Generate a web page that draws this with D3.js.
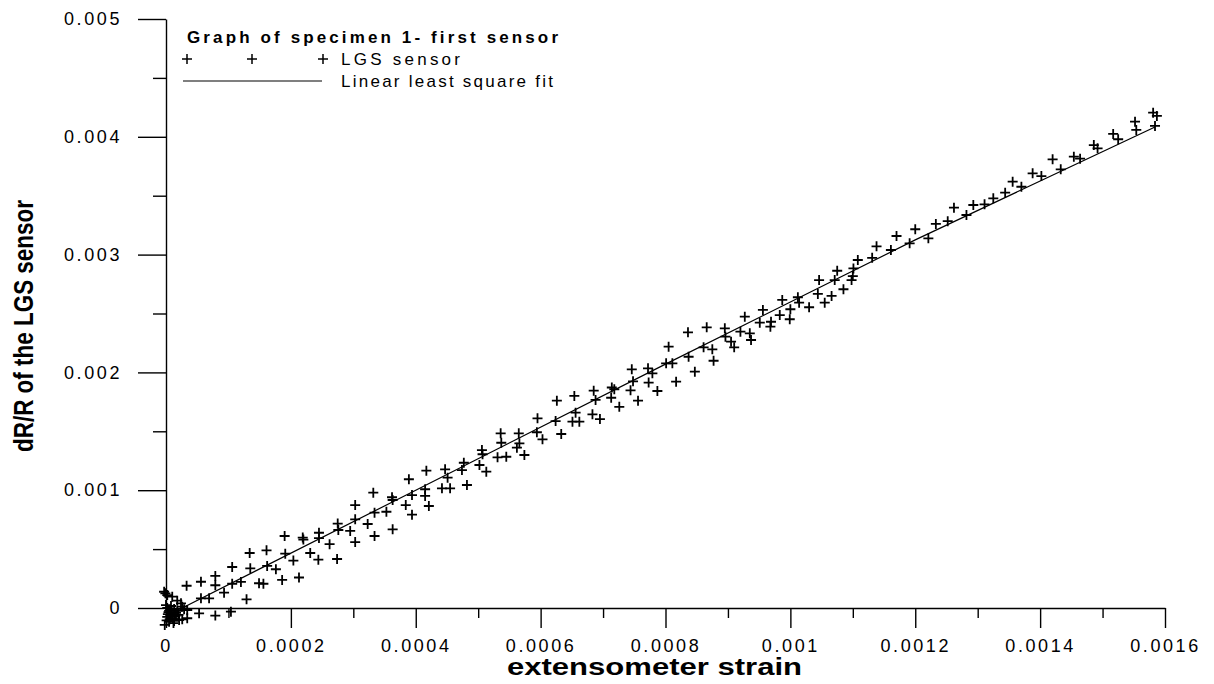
<html>
<head>
<script src="https://d3js.org/d3.v7.min.js"></script>
<style>
  body{margin:0;background:#fff;}
  text{font-family:"Liberation Sans",Arial,sans-serif;fill:#000;}
  .domain,.tick line{stroke:#000;stroke-width:1.4;}
  .tick text{font-size:18px;letter-spacing:2.6px;}
</style>
</head>
<body>
<script>
// LGS sensor readings (extensometer strain, dR/R)
const lgsStrain = [
  -0.000003,-0.000001,0.000002,0.00001,0.000018,0.000024,0.000026,0.0,0.000002,0.000005,
  0.000008,0.000002,0.000013,0.000016,0.000005,0.000013,0.000021,0.000026,0.000029,0.000034,
  -0.000002,0.000008,0.000018,0.000033,0.000056,0.000079,0.000079,0.000056,0.000069,0.000093,
  0.000106,0.000106,0.00012,0.000129,0.000134,0.000135,0.000149,0.000156,0.000161,0.000162,
  0.000176,0.000186,0.00019,0.000191,0.000204,0.000213,0.000219,0.00022,0.000231,0.000245,
  0.000245,0.000244,0.000262,0.000275,0.000276,0.000274,0.000295,0.000303,0.000303,0.000303,
  0.000323,0.000332,0.000334,0.000334,0.000353,0.000362,0.000363,0.000363,0.000384,0.000394,
  0.000394,0.000389,0.000415,0.000415,0.000417,0.000421,0.000442,0.000447,0.000451,0.000455,
  0.000474,0.000477,0.000482,0.000502,0.000506,0.000507,0.000513,0.000531,0.000536,0.000537,
  0.000545,0.000562,0.000565,0.000566,0.000574,0.000594,0.000595,0.000603,0.000624,0.000626,
  0.000633,0.000654,0.000656,0.000651,0.000662,0.000683,0.000685,0.000688,0.000695,0.000714,
  0.000718,0.000713,0.000726,0.000744,0.000746,0.000748,0.000756,0.000772,0.000773,0.000779,
  0.000787,0.000801,0.000805,0.000811,0.000817,0.000836,0.000837,0.000847,0.000861,0.000866,
  0.000875,0.000877,0.000895,0.000896,0.000905,0.00091,0.00092,0.000927,0.000935,0.000937,
  0.000951,0.000956,0.000969,0.000968,0.000983,0.000987,0.000999,0.001,0.001012,0.001014,
  0.00103,0.001044,0.001046,0.001055,0.001066,0.001071,0.001075,0.001085,0.001098,0.0011,
  0.001101,0.001108,0.001131,0.001138,0.001161,0.00117,0.001191,0.0012,0.001221,0.001233,
  0.001252,0.001262,0.001282,0.001293,0.001311,0.001325,0.001344,0.001356,0.00137,0.001388,
  0.001402,0.00142,0.001433,0.001454,0.001464,0.001486,0.001492,0.001517,0.001525,0.001552,
  0.001554,0.001581,0.001587,0.001584,0.000053,0.000079,0.000104,0.000034,
  0.000004,0.000007,0.000011,0.000003,0.000009,0.000015,0.000006,0.000012,0.00002,0.000001
];
const lgsDR = [
  0.000138,0.000125,0.00011,0.000096,0.000062,0.00004,0.000011,0.000025,0.0,-0.000025,
  -0.000051,-0.000076,-0.000009,-0.000042,-0.000116,-0.00011,-0.000102,-0.000096,-0.000011,-0.000017,
  -0.000144,0.000017,-0.000025,0.000189,0.000223,0.000272,0.000193,0.000082,0.000082,0.00013,
  0.000348,0.000206,0.000221,0.000074,0.000467,0.000337,0.00021,0.000206,0.00049,0.000357,
  0.000329,0.000238,0.000611,0.000461,0.000403,0.000259,0.000598,0.000581,0.000467,0.000639,
  0.000594,0.00041,0.000542,0.000717,0.000662,0.000416,0.000654,0.000874,0.000753,0.00056,
  0.000713,0.000979,0.000809,0.000611,0.000817,0.00094,0.000917,0.000668,0.000874,0.000959,
  0.000792,0.001093,0.001008,0.000951,0.001166,0.000866,0.001016,0.001177,0.001106,0.001016,
  0.001171,0.001233,0.001044,0.001214,0.001341,0.001305,0.001157,0.001279,0.001483,0.001403,
  0.001284,0.001361,0.001483,0.001398,0.001299,0.001492,0.00161,0.001432,0.001587,0.00176,
  0.001477,0.0018,0.001658,0.001582,0.001582,0.001644,0.001845,0.001766,0.001604,0.001872,
  0.001857,0.001785,0.001708,0.001848,0.002026,0.001924,0.00176,0.002035,0.001914,0.001992,
  0.001842,0.002077,0.002218,0.002077,0.001921,0.00234,0.002133,0.002006,0.002213,0.002383,
  0.002196,0.002099,0.002374,0.002303,0.002261,0.002213,0.002346,0.002473,0.002332,0.002275,
  0.002422,0.00253,0.00243,0.002388,0.002487,0.002615,0.002451,0.002536,0.002638,0.002592,
  0.002553,0.002666,0.002784,0.002592,0.002649,0.002784,0.002863,0.002706,0.002784,0.002818,
  0.002883,0.002954,0.002973,0.00307,0.003039,0.003158,0.003096,0.003215,0.003138,0.00326,
  0.003284,0.003398,0.003336,0.003421,0.003427,0.003478,0.003526,0.003619,0.003576,0.00369,
  0.003667,0.003809,0.003724,0.003831,0.003814,0.00393,0.003902,0.004024,0.003979,0.004128,
  0.004058,0.004205,0.004177,0.004092,-0.000045,-0.000064,-0.000031,-0.000087,
  -0.000035,-0.000062,-0.000088,-0.000052,-0.000018,-0.000068,-0.000095,-0.000128,-0.000058,-0.000105
];

// linear least square fit
const fitStrain = [0.000026, 0.0004, 0.0008, 0.0012, 0.001584];
const fitDR = [0, 0.001, 0.00207, 0.003125, 0.004083];

const xTicks = [0,0.0002,0.0004,0.0006,0.0008,0.001,0.0012,0.0014,0.0016];
const xMinor = [0.0001,0.0003,0.0005,0.0007,0.0009,0.0011,0.0013,0.0015];
const yTicks = [0,0.001,0.002,0.003,0.004,0.005];
const yMinor = [0.0005,0.0015,0.0025,0.0035,0.0045];

const W = 1214, H = 684;

const x = d3.scaleLinear().domain([0,0.0016]).range([166,1165]);
const y = d3.scaleLinear().domain([0,0.005]).range([608,19]);

const svg = d3.select("body").append("svg")
  .attr("width",W).attr("height",H);

// minor ticks first
svg.append("g")
  .attr("transform","translate(0,"+y(0)+")")
  .call(d3.axisBottom(x).tickValues(xMinor).tickSize(10).tickSizeOuter(0).tickFormat(""))
  .select(".domain").remove();
svg.append("g")
  .attr("transform","translate("+x(0)+",0)")
  .call(d3.axisLeft(y).tickValues(yMinor).tickSize(13).tickSizeOuter(0).tickFormat(""))
  .select(".domain").remove();

// major axes
svg.append("g")
  .attr("transform","translate(0,"+y(0)+")")
  .call(d3.axisBottom(x).tickValues(xTicks).tickSize(20).tickSizeOuter(0).tickPadding(11)
    .tickFormat(function(d){return String(d);}));

svg.append("g")
  .attr("transform","translate("+x(0)+",0)")
  .call(d3.axisLeft(y).tickValues(yTicks).tickSize(28).tickSizeOuter(0).tickPadding(16)
    .tickFormat(function(d){return String(d);}));

// fit line
svg.append("path")
  .datum(d3.range(fitStrain.length))
  .attr("fill","none")
  .attr("stroke","#000")
  .attr("stroke-width",1.2)
  .attr("d",d3.line().x(function(i){return x(fitStrain[i]);}).y(function(i){return y(fitDR[i]);}));

// data points as plus signs
const plus = "M-5,0H5M0,-5V5";
svg.append("g").selectAll("path")
  .data(d3.range(lgsStrain.length))
  .enter().append("path")
  .attr("d",plus)
  .attr("transform",function(i){return "translate("+x(lgsStrain[i])+","+y(lgsDR[i])+")";})
  .attr("stroke","#000")
  .attr("stroke-width",1.8)
  .attr("fill","none");

// axis titles
svg.append("text")
  .attr("x",507).attr("y",675)
  .attr("font-size",23).attr("font-weight","bold")
  .attr("textLength",295).attr("lengthAdjust","spacingAndGlyphs")
  .text("extensometer strain");

svg.append("text")
  .attr("transform","translate(33,452) rotate(-90)")
  .attr("font-size",28).attr("font-weight","bold")
  .attr("textLength",252).attr("lengthAdjust","spacingAndGlyphs")
  .text("dR/R of the LGS sensor");

// legend
const leg = svg.append("g");
leg.append("text")
  .attr("x",187).attr("y",43)
  .attr("font-size",17).attr("font-weight","bold")
  .attr("textLength",371).attr("lengthAdjust","spacing")
  .text("Graph of specimen 1- first sensor");

[187,252,323].forEach(function(px){
  leg.append("path").attr("d",plus)
    .attr("transform","translate("+px+",59)")
    .attr("stroke","#000").attr("stroke-width",1.5);
});
leg.append("text")
  .attr("x",341).attr("y",65)
  .attr("font-size",17)
  .attr("textLength",119).attr("lengthAdjust","spacing")
  .text("LGS sensor");

leg.append("line")
  .attr("x1",183).attr("x2",322).attr("y1",81).attr("y2",81)
  .attr("stroke","#000").attr("stroke-width",1.2);
leg.append("text")
  .attr("x",341).attr("y",87)
  .attr("font-size",17)
  .attr("textLength",212).attr("lengthAdjust","spacing")
  .text("Linear least square fit");
</script>
</body>
</html>
